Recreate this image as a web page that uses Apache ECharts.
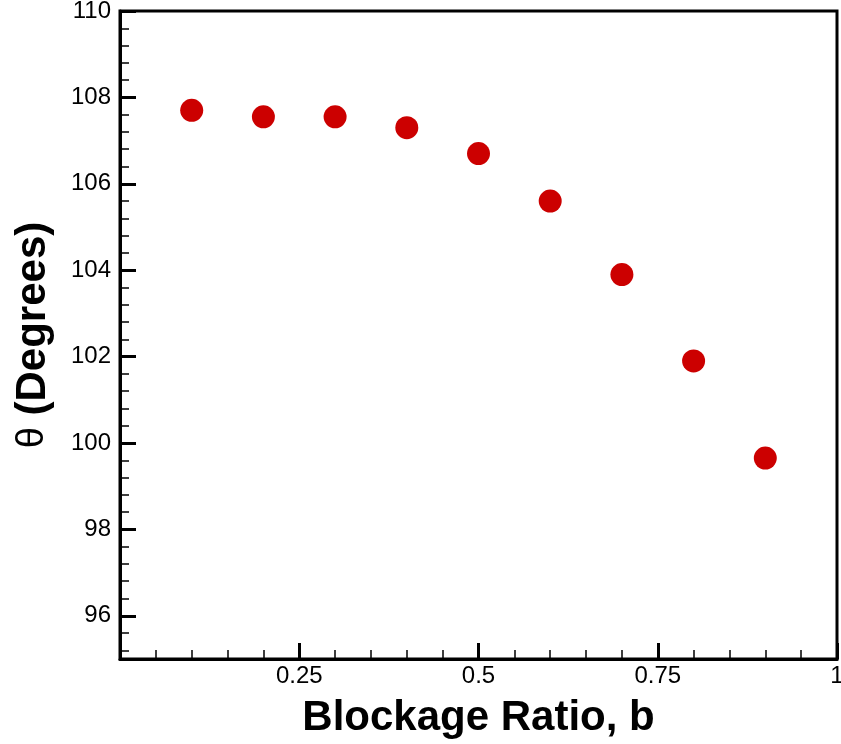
<!DOCTYPE html>
<html>
<head>
<meta charset="utf-8">
<script src="https://cdn.jsdelivr.net/npm/echarts@6/dist/echarts.min.js"></script>
<style>
  html, body { margin: 0; padding: 0; background: #fff; }
  #chart { width: 841px; height: 744px; }
</style>
</head>
<body>
<div id="chart"></div>
<script>
// blockage ratio and angle
var blockage = [0.1, 0.2, 0.3, 0.4, 0.5, 0.6, 0.7, 0.8, 0.9];
var theta = [107.7, 107.55, 107.55, 107.3, 106.7, 105.6, 103.9, 101.9, 99.65];

var yMajor = [96, 98, 100, 102, 104, 106, 108, 110];
var yMinor = [95.2, 95.6, 96.4, 96.8, 97.2, 97.6, 98.4, 98.8, 99.2, 99.6,
  100.4, 100.8, 101.2, 101.6, 102.4, 102.8, 103.2, 103.6, 104.4, 104.8,
  105.2, 105.6, 106.4, 106.8, 107.2, 107.6, 108.4, 108.8, 109.2, 109.6];

var chart = echarts.init(document.getElementById('chart'));

var pts = [];
for (var i = 0; i < blockage.length; i++) {
  pts.push([blockage[i], theta[i]]);
}

var font = 'Liberation Sans, Arial, Helvetica, sans-serif';

var option = {
  animation: false,
  grid: {
    left: 120, right: 4, top: 11, bottom: 85,
    outerBoundsMode: 'none',
    containLabel: false,
    show: true, borderColor: '#000', borderWidth: 3, backgroundColor: 'transparent'
  },
  xAxis: {
    type: 'value',
    min: 0, max: 1, interval: 0.25,
    name: 'Blockage Ratio, b',
    nameLocation: 'middle',
    nameGap: 38,
    nameTextStyle: { fontFamily: font, fontSize: 42, fontWeight: 'bold', color: '#000', verticalAlign: 'top' },
    axisLine: { lineStyle: { color: '#000', width: 3 } },
    axisTick: { inside: true, length: 16, lineStyle: { color: '#000', width: 3 } },
    minorTick: { show: true, splitNumber: 5, length: 9, lineStyle: { color: '#000', width: 1.5 } },
    splitLine: { show: false },
    axisLabel: {
      fontFamily: font, fontSize: 24, color: '#000', margin: 5,
      formatter: function (v) { return v === 0 ? '' : String(v); }
    }
  },
  yAxis: [{
    type: 'value',
    min: 95, max: 110, interval: 1,
    name: '{t|θ} (Degrees)',
    nameLocation: 'middle',
    nameGap: 66,
    nameTextStyle: {
      fontFamily: font, fontSize: 42, fontWeight: 'bold', color: '#000',
      rich: { t: { fontFamily: font, fontSize: 38, fontWeight: 'normal', color: '#000' } }
    },
    axisLine: { lineStyle: { color: '#000', width: 3 } },
    axisTick: { inside: true, length: 16, customValues: yMajor, lineStyle: { color: '#000', width: 3 } },
    splitLine: { show: false },
    axisLabel: { fontFamily: font, fontSize: 24, color: '#000', margin: 9, customValues: yMajor }
  }, {
    type: 'value',
    position: 'left',
    min: 95, max: 110, interval: 1,
    axisLine: { show: false },
    axisTick: { inside: true, length: 9, customValues: yMinor, lineStyle: { color: '#000', width: 1.5 } },
    axisLabel: { show: false },
    splitLine: { show: false }
  }],
  series: [{
    type: 'scatter',
    data: pts,
    symbol: 'circle',
    symbolSize: 23,
    itemStyle: { color: '#cc0000', opacity: 1 }
  }]
};

chart.setOption(option);
</script>
</body>
</html>
